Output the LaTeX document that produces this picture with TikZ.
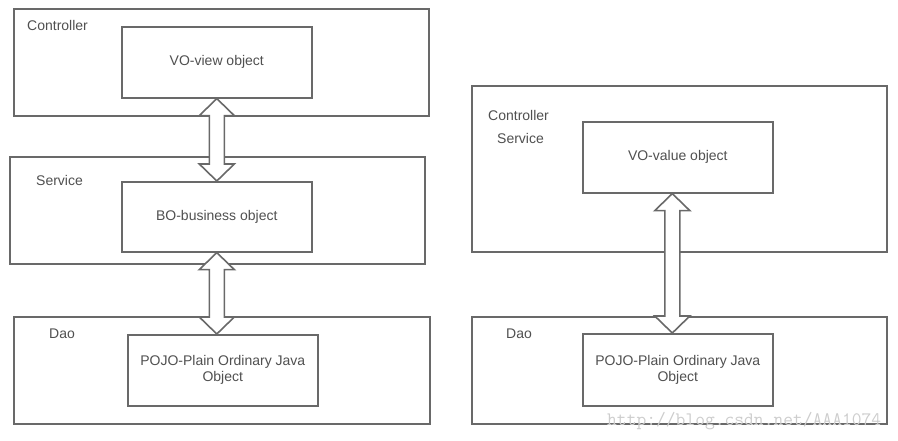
\documentclass[tikz,border=0pt]{standalone}
\usepackage{fontspec}
\setmainfont{Liberation Sans}
\usetikzlibrary{calc}
\definecolor{edge}{RGB}{105,105,105}
\definecolor{ink}{RGB}{80,80,80}
\definecolor{wm}{RGB}{205,205,205}
\tikzset{
 layerbox/.style={draw=edge, line width=1.6pt, anchor=north west, inner sep=0pt},
 objbox/.style={draw=edge, line width=1.6pt, fill=white, anchor=north west, inner sep=0pt, align=center, text=ink, font=\fontsize{14}{16}\selectfont},
 lbl/.style={anchor=west, text=ink, font=\fontsize{14}{16}\selectfont, inner sep=0pt},
 blockarrow/.style={draw=edge, line width=1.6pt, fill=white, line join=miter},
}
\newcommand{\dblarrow}[2]{%
 \draw[blockarrow] let \p1=(#1), \p2=(#2) in
  (\x1,\y1) -- (\x1+17.5pt,\y1-17pt) -- (\x1+7.5pt,\y1-17pt) -- (\x1+7.5pt,\y2+17pt)
  -- (\x1+17.5pt,\y2+17pt) -- (\x1,\y2) -- (\x1-17.5pt,\y2+17pt) -- (\x1-7.5pt,\y2+17pt)
  -- (\x1-7.5pt,\y1-17pt) -- (\x1-17.5pt,\y1-17pt) -- cycle;}
\begin{document}
\begin{tikzpicture}[x=1pt,y=-1pt]
\useasboundingbox[fill=white] (0,0) rectangle (898,440);
% left column
\node[layerbox, minimum width=415pt, minimum height=107pt] (ctrlL) at (13,8) {};
\node[lbl] (ctrlLlbl) at (27,25) {Controller};
\node[objbox, minimum width=190pt, minimum height=71pt] (voview) at (121,26) {VO-view object};
\node[layerbox, minimum width=415pt, minimum height=107pt] (servL) at (9,156) {};
\node[lbl] (servLlbl) at (36,180) {Service};
\node[objbox, minimum width=190pt, minimum height=70pt] (bo) at (121,181) {BO-business object};
\node[layerbox, minimum width=416pt, minimum height=107pt] (daoL) at (13,316) {};
\node[lbl] (daoLlbl) at (49,334) {Dao};
\node[objbox, minimum width=190pt, minimum height=71pt] (pojoL) at (127,334) {POJO-Plain Ordinary Java\\Object};
\dblarrow{voview.south}{bo.north}
\dblarrow{bo.south}{pojoL.north}
% right column
\node[layerbox, minimum width=415pt, minimum height=166pt] (ctrlR) at (471,85) {};
\node[lbl] (ctrlRlbl) at (488,115) {Controller};
\node[lbl] (servRlbl) at (497,138) {Service};
\node[objbox, minimum width=190pt, minimum height=71pt] (vov) at (582,121) {VO-value object};
\node[layerbox, minimum width=415pt, minimum height=107pt] (daoR) at (471,316) {};
\node[lbl] (daoRlbl) at (506,334) {Dao};
\node[objbox, minimum width=190pt, minimum height=72pt] (pojoR) at (582,333) {POJO-Plain Ordinary Java\\Object};
\coordinate (rtop) at ([xshift=-5.5pt]vov.south);
\coordinate (rbot) at ([xshift=-5.5pt]pojoR.north);
\dblarrow{rtop}{rbot}
% watermark
\node[anchor=base west, inner sep=0pt, text=wm, font=\ttfamily\fontsize{19}{19}\selectfont] (wmark) at (607,425.5) {http://blog.csdn.net/AAA1074};
\end{tikzpicture}
\end{document}
